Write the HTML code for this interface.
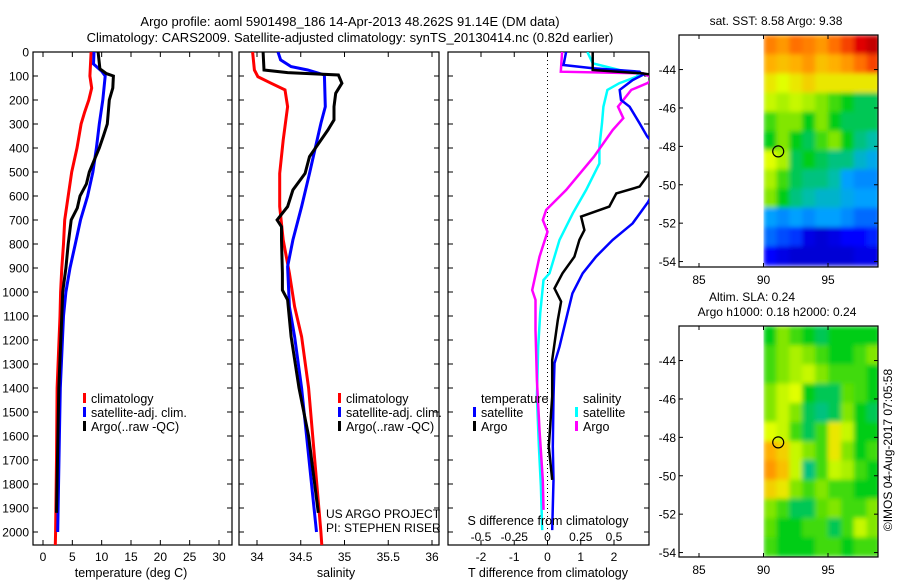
<!DOCTYPE html>
<html><head><meta charset="utf-8"><style>
html,body{margin:0;padding:0;background:#fff}
svg{display:block;font-family:"Liberation Sans",sans-serif}
</style></head><body>
<svg id="c" width="900" height="580" xmlns="http://www.w3.org/2000/svg">
<text x="350" y="26" font-size="13" text-anchor="middle">Argo profile: aoml 5901498_186 14-Apr-2013 48.262S 91.14E (DM data)</text>
<text x="350" y="42" font-size="13" text-anchor="middle">Climatology: CARS2009. Satellite-adjusted climatology: synTS_20130414.nc (0.82d earlier)</text>
</svg>
<script>
// ---------- data ----------
const tClimD=[0,100,150,200,250,300,400,500,600,700,800,900,1000,1100,1400,1700,2000,2054];
const tClimV=[8.2,8.0,8.3,7.8,7.1,6.5,5.8,4.9,4.3,3.7,3.5,3.2,3.0,2.9,2.4,2.3,2.15,2.1];
const tSatD=[0,50,80,100,200,300,400,500,600,700,800,900,1000,1100,1400,1600,2000];
const tSatV=[8.7,8.6,10.0,10.6,10.2,9.6,9.1,8.5,7.6,6.4,5.5,4.6,3.9,3.5,2.95,2.8,2.5];
const tArgoD=[0,70,90,100,150,200,300,350,400,500,550,600,650,700,800,900,1000,1100,1400,1920];
const tArgoV=[9.4,9.7,10.8,12.0,11.9,11.3,10.96,10.3,9.6,7.9,7.4,6.3,5.85,4.8,4.3,3.9,3.35,3.2,2.7,2.3];
const sClimD=[0,75,103,130,158,228,367,506,644,783,922,1061,1186,1400,2000,2054];
const sClimV=[33.95,33.97,34.01,34.16,34.32,34.35,34.30,34.26,34.26,34.30,34.37,34.43,34.51,34.59,34.73,34.74];
const sSatD=[0,33,61,75,96,228,297,394,506,644,783,894,1061,1186,1400,2000];
const sSatV=[34.24,34.27,34.39,34.58,34.77,34.78,34.73,34.67,34.60,34.51,34.41,34.35,34.37,34.43,34.51,34.68];
const sArgoD=[0,75,86,96,130,172,228,283,325,367,436,506,575,644,700,728,783,922,992,1033,1186,1400,1600,1920];
const sArgoV=[34.07,34.08,34.35,34.93,34.97,34.90,34.88,34.88,34.81,34.73,34.60,34.55,34.41,34.35,34.23,34.28,34.28,34.29,34.29,34.35,34.39,34.48,34.59,34.70];
const dTSatD=[0,54,68,82,96,117,158,200,228,297,353,450,550,624,714,783,853,922,1006,1089,1228,1297,1436,1644,1783,1992];
const dTSatV=[0.56,0.48,1.36,2.77,2.86,2.56,2.17,2.21,2.47,2.77,3.0,3.6,3.3,3.03,2.56,1.96,1.46,1.06,0.75,0.6,0.36,0.21,0.18,0.16,0.18,0.14];
const dTArgoD=[0,75,89,100,300,512,561,589,644,686,742,783,853,922,985,1040,1117,1283,1436,1644,1783];
const dTArgoV=[1.36,1.36,2.86,3.4,3.8,3.03,2.77,2.07,1.86,1.01,1.11,0.96,0.81,0.45,0.21,0.41,0.31,0.14,0.14,0.04,0.14];
const dSSatD=[0,47,75,89,103,130,158,228,297,394,464,575,672,783,922,950,1089,1228,1436,1644,1811,1992];
const dSSatV=[0.30,0.34,0.54,0.69,0.67,0.54,0.45,0.42,0.41,0.39,0.39,0.29,0.19,0.09,0.015,-0.03,-0.055,-0.07,-0.08,-0.065,-0.05,-0.04];
const dSArgoD=[0,82,89,110,130,158,228,276,325,436,575,658,700,749,853,992,1033,1158,1367,1575,1783,1908];
const dSArgoV=[0.11,0.10,0.72,0.8,0.75,0.63,0.53,0.57,0.49,0.35,0.14,-0.01,-0.035,0.0,-0.06,-0.115,-0.09,-0.09,-0.08,-0.06,-0.035,-0.03];
const depthTicks=[0,100,200,300,400,500,600,700,800,900,1000,1100,1200,1300,1400,1500,1600,1700,1800,1900,2000];
const tTicks=[0,5,10,15,20,25,30];
const sTicks=[34,34.5,35,35.5,36];
const sTickLabels=["34","34.5","35","35.5","36"];
const dTTicks=[-2,-1,0,1,2];
const dSTicks=[-0.5,-0.25,0,0.25,0.5];
const dSTickLabels=["-0.5","-0.25","0","0.25","0.5"];
const mapLatTicks=[-44,-46,-48,-50,-52,-54];
const mapLonTicks=[85,90,95];
const sstGrid=[
[.78,.75,.8,.78,.75,.8,.85,.92,.95],
[.72,.7,.72,.75,.7,.72,.75,.8,.85],
[.65,.62,.65,.68,.65,.65,.65,.65,.65],
[.6,.58,.6,.58,.55,.5,.45,.42,.42],
[.5,.55,.55,.45,.55,.45,.42,.42,.42],
[.45,.55,.45,.42,.5,.55,.45,.4,.38],
[.62,.58,.42,.45,.42,.4,.4,.35,.32],
[.58,.5,.42,.4,.4,.38,.3,.28,.28],
[.55,.45,.4,.38,.35,.35,.32,.3,.3],
[.3,.28,.3,.28,.3,.3,.28,.25,.25],
[.25,.22,.2,.12,.1,.12,.15,.15,.18],
[.15,.12,.1,.1,.1,.1,.1,.12,.12]];
const slaGrid=[
[.45,.55,.5,.45,.42,.45,.45,.45,.45],
[.5,.55,.58,.55,.5,.45,.45,.5,.55],
[.5,.55,.58,.6,.55,.5,.5,.5,.45],
[.55,.6,.62,.45,.42,.42,.52,.5,.45],
[.55,.6,.55,.42,.4,.42,.55,.45,.42],
[.62,.6,.5,.42,.5,.65,.6,.45,.45],
[.72,.68,.6,.55,.5,.65,.55,.45,.5],
[.75,.7,.6,.4,.5,.6,.58,.5,.45],
[.68,.65,.55,.5,.55,.5,.5,.45,.45],
[.55,.5,.42,.42,.52,.55,.5,.5,.55],
[.52,.45,.45,.5,.5,.42,.5,.6,.55],
[.5,.45,.45,.45,.5,.5,.45,.5,.5]];
const floatLon=91.14, floatLat=-48.262;

// ---------- helpers ----------
const NS="http://www.w3.org/2000/svg";
const svg=document.getElementById('c');
function el(tag,attrs,parent){const e=document.createElementNS(NS,tag);for(const k in attrs)e.setAttribute(k,attrs[k]);(parent||svg).appendChild(e);return e;}
function txt(x,y,s,size,anchor,parent){const t=el('text',{x:x,y:y,'font-size':size,'text-anchor':anchor||'middle'},parent);t.textContent=s;return t;}
const TOP=52,BOT=545;
const yD=d=>TOP+0.24*d;
function lin(d0,d1,p0,p1){return v=>p0+(v-d0)*(p1-p0)/(d1-d0);}

function panel(name,x0,x1,clipId){
  const g=el('g',{});
  
  
  const cp=el('clipPath',{id:clipId},g);el('rect',{x:x0,y:TOP,width:x1-x0,height:BOT-TOP},cp);
  el('rect',{x:x0,y:TOP,width:x1-x0,height:BOT-TOP,fill:'none',stroke:'#000','stroke-width':1.2},g);
  depthTicks.forEach(d=>{const y=yD(d);
    el('line',{x1:x0,x2:x0+5,y1:y,y2:y,stroke:'#000'},g);
    el('line',{x1:x1,x2:x1-5,y1:y,y2:y,stroke:'#000'},g);});
  return g;
}
function profile(g,clipId,xf,D,V,color,w,name){
  const pts=D.map((d,i)=>xf(V[i]).toFixed(1)+','+yD(d).toFixed(1)).join(' ');
  const p=el('polyline',{points:pts,fill:'none',stroke:color,'stroke-width':w,'stroke-linejoin':'miter','clip-path':'url(#'+clipId+')'},g);
  
  
}
function legendItem(g,x,y,color,label,name){
  const it=el('g',{},g);
  
  
  el('rect',{x:x,y:y-10,width:3,height:10,fill:color},it);
  txt(x+8,y,label,12.5,'start',it);
}

// ---------- panel 1: temperature ----------
const xT=lin(0,30,43,219);
const g1=panel('temperature-panel',33,232,'cp1');
depthTicks.forEach(d=>{txt(29,yD(d)+4.5,String(d),12,'end',g1);});
tTicks.forEach(v=>{const x=xT(v);el('line',{x1:x,x2:x,y1:BOT,y2:BOT-5,stroke:'#000'},g1);el('line',{x1:x,x2:x,y1:TOP,y2:TOP+5,stroke:'#000'},g1);txt(x,561,String(v),12,'middle',g1);});
txt(131,577,'temperature (deg C)',12.5,'middle',g1);
profile(g1,'cp1',xT,tClimD,tClimV,'#f00',3,'temp-climatology-line');
profile(g1,'cp1',xT,tSatD,tSatV,'#00f',3,'temp-satellite-line');
profile(g1,'cp1',xT,tArgoD,tArgoV,'#000',3,'temp-argo-line');
legendItem(g1,83,403,'#f00','climatology','legend-climatology');
legendItem(g1,83,417,'#00f','satellite-adj. clim.','legend-satellite');
legendItem(g1,83,431,'#000','Argo(..raw -QC)','legend-argo');

// ---------- panel 2: salinity ----------
const xS=lin(34,36,257,432);
const g2=panel('salinity-panel',239,439,'cp2');
sTicks.forEach((v,i)=>{const x=xS(v);el('line',{x1:x,x2:x,y1:BOT,y2:BOT-5,stroke:'#000'},g2);el('line',{x1:x,x2:x,y1:TOP,y2:TOP+5,stroke:'#000'},g2);txt(x,561,sTickLabels[i],12,'middle',g2);});
txt(336,577,'salinity',12.5,'middle',g2);
profile(g2,'cp2',xS,sClimD,sClimV,'#f00',3,'sal-climatology-line');
profile(g2,'cp2',xS,sSatD,sSatV,'#00f',3,'sal-satellite-line');
profile(g2,'cp2',xS,sArgoD,sArgoV,'#000',3,'sal-argo-line');
legendItem(g2,338,403,'#f00','climatology','legend-climatology-2');
legendItem(g2,338,417,'#00f','satellite-adj. clim.','legend-satellite-2');
legendItem(g2,338,431,'#000','Argo(..raw -QC)','legend-argo-2');
txt(326,518,'US ARGO PROJECT',12,'start',g2);
txt(326,532,'PI: STEPHEN RISER',12,'start',g2);

// ---------- panel 3: differences ----------
const xDT=lin(-2,2,481,614);
const xDS=lin(-0.5,0.5,481,614);
const g3=panel('difference-panel',448,649,'cp3');
el('line',{x1:xDT(0),x2:xDT(0),y1:TOP,y2:BOT,stroke:'#000','stroke-dasharray':'1,3','stroke-width':1},g3);
dTTicks.forEach(v=>{const x=xDT(v);el('line',{x1:x,x2:x,y1:BOT,y2:BOT-5,stroke:'#000'},g3);el('line',{x1:x,x2:x,y1:TOP,y2:TOP+5,stroke:'#000'},g3);txt(x,561,String(v),12,'middle',g3);});
txt(548,577,'T difference from climatology',12.5,'middle',g3);
profile(g3,'cp3',xDS,dSSatD,dSSatV,'#0ff',2.5,'sdiff-satellite-line');
profile(g3,'cp3',xDS,dSArgoD,dSArgoV,'#f0f',2.5,'sdiff-argo-line');
profile(g3,'cp3',xDT,dTSatD,dTSatV,'#00f',2.5,'tdiff-satellite-line');
profile(g3,'cp3',xDT,dTArgoD,dTArgoV,'#000',2.5,'tdiff-argo-line');
txt(548,525,'S difference from climatology',12.5,'middle',g3);
dSTicks.forEach((v,i)=>{txt(xDS(v),541,dSTickLabels[i],12,'middle',g3);});
txt(481,403,'temperature',12.5,'start',g3);
legendItem(g3,473,417,'#00f','satellite','legend-tdiff-satellite');
legendItem(g3,473,431,'#000','Argo','legend-tdiff-argo');
txt(583,403,'salinity',12.5,'start',g3);
legendItem(g3,575,417,'#0ff','satellite','legend-sdiff-satellite');
legendItem(g3,575,431,'#f0f','Argo','legend-sdiff-argo');

// ---------- maps ----------
const cstops=[[0,[0,0,128]],[0.15,[0,0,255]],[0.3,[0,160,255]],[0.38,[0,190,170]],[0.45,[0,205,20]],[0.55,[130,230,0]],[0.62,[225,255,0]],[0.72,[255,176,0]],[0.82,[255,96,0]],[0.92,[224,0,0]],[1,[144,0,0]]];
function cmap(v){for(let i=1;i<cstops.length;i++){if(v<=cstops[i][0]){const a=cstops[i-1],b=cstops[i],f=(v-a[0])/(b[0]-a[0]);return 'rgb('+a[1].map((c,k)=>Math.round(c+f*(b[1][k]-c))).join(',')+')';}}return 'rgb(144,0,0)';}
function drawMap(name,top,bot,grid,titles,titleYs,titleXs){
  const g=el('g',{});
  
  
  const L=679,R=878;
  const xL=lin(85,95,699,828);
  const y0=top+1.8*19.2; // -44
  const yLat=v=>y0+(-44-v)*19.2;
  const x90=xL(90);
  const cp=el('clipPath',{id:name+'-cp'},g);el('rect',{x:x90,y:top,width:R-x90,height:bot-top},cp);
  const flt=el('filter',{id:name+'-blur',filterUnits:'userSpaceOnUse',x:x90,y:top,width:R-x90,height:bot-top},g);
  el('feGaussianBlur',{stdDeviation:2.5,edgeMode:'duplicate'},flt);
  const outer=el('g',{'clip-path':'url(#'+name+'-cp)'},g);
  const cells=el('g',{filter:'url(#'+name+'-blur)'},outer);
  grid.forEach((row,r)=>row.forEach((v,c)=>{
    const lat0=-42.2-r, lon0=90+c;
    const x=xL(lon0), y=yLat(lat0);
    const cell=el('rect',{x:x,y:y,width:xL(lon0+1)-x+0.5,height:19.7,fill:cmap(v)},cells);
    
    
  }));
  el('rect',{x:L,y:top,width:R-L,height:bot-top,fill:'none',stroke:'#000','stroke-width':1.2},g);
  mapLatTicks.forEach(v=>{const y=yLat(v);el('line',{x1:L,x2:L+4,y1:y,y2:y,stroke:'#000'},g);el('line',{x1:R,x2:R-4,y1:y,y2:y,stroke:'#000'},g);txt(676,y+4.5,String(v),12,'end',g);});
  mapLonTicks.forEach(v=>{const x=xL(v);el('line',{x1:x,x2:x,y1:bot,y2:bot-4,stroke:'#000'},g);el('line',{x1:x,x2:x,y1:top,y2:top+4,stroke:'#000'},g);txt(x,bot+17,String(v),12,'middle',g);});
  const m=el('circle',{cx:xL(floatLon),cy:yLat(floatLat),r:5.5,fill:'none',stroke:'#000','stroke-width':1.2},g);
  
  
  titles.forEach((t,i)=>txt(titleXs[i],titleYs[i],t,12,'middle',g));
}
drawMap('sst-map',35,267,sstGrid,['sat. SST: 8.58 Argo: 9.38'],[25],[776]);
drawMap('sla-map',326,557,slaGrid,['Altim. SLA: 0.24','Argo h1000: 0.18 h2000: 0.24'],[301,316],[752,777]);
const ts=txt(0,0,'©IMOS 04-Aug-2017 07:05:58',12,'middle');
ts.setAttribute('transform','translate(892,450) rotate(-90)');


</script>
</body></html>
